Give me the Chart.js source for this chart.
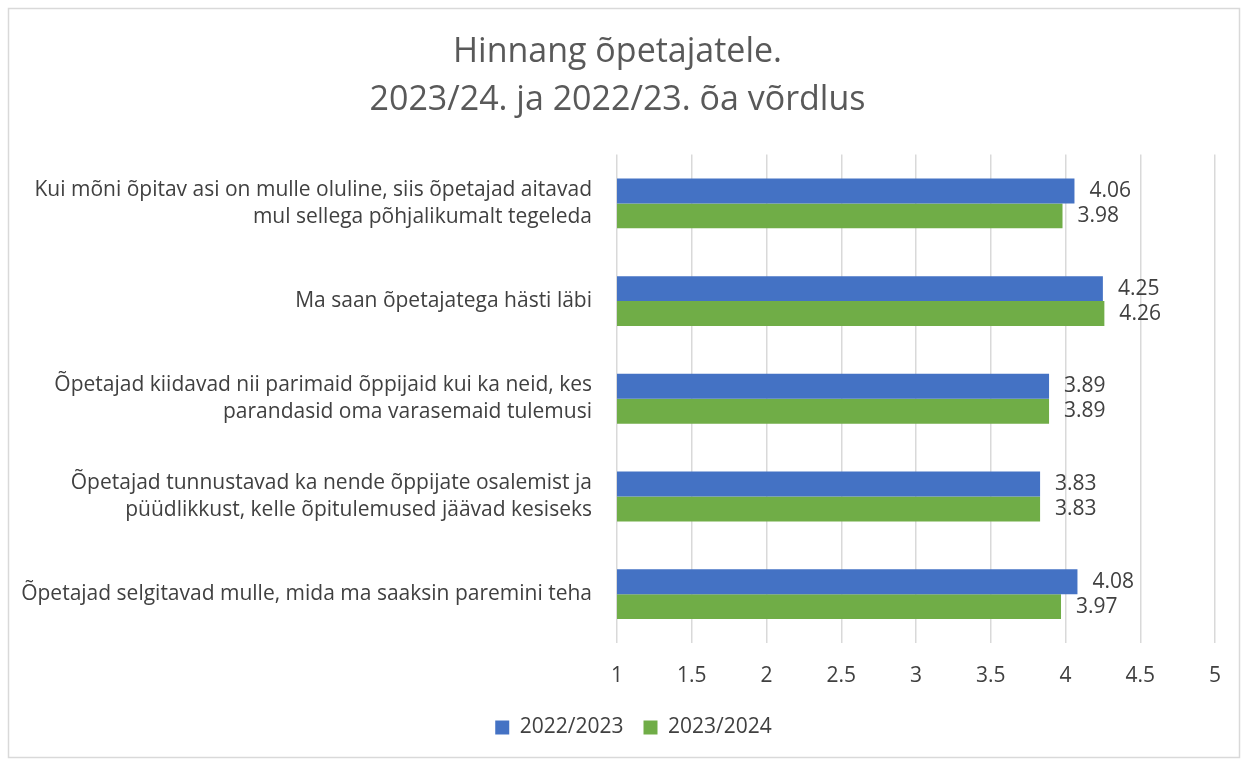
<!DOCTYPE html>
<html><head><meta charset="utf-8">
<script src="https://cdn.jsdelivr.net/npm/chart.js@4/dist/chart.umd.min.js"></script>
<style>html,body{margin:0;padding:0;background:#fff;}#wrap{width:1244px;height:761px;position:relative;}</style>
</head><body><div id="wrap"><canvas id="c" width="1244" height="761"></canvas></div>
<script>
const categories = [
  ["Kui mõni õpitav asi on mulle oluline, siis õpetajad aitavad", "mul sellega põhjalikumalt tegeleda"],
  "Ma saan õpetajatega hästi läbi",
  ["Õpetajad kiidavad nii parimaid õppijaid kui ka neid, kes", "parandasid oma varasemaid tulemusi"],
  ["Õpetajad tunnustavad ka nende õppijate osalemist ja", "püüdlikkust, kelle õpitulemused jäävad kesiseks"],
  "Õpetajad selgitavad mulle, mida ma saaksin paremini teha"
];
const seriesNames = ["2022/2023", "2023/2024"];
const values2022 = [4.06, 4.25, 3.89, 3.83, 4.08];
const values2023 = [3.98, 4.26, 3.89, 3.83, 3.97];
const xTicks = [1, 1.5, 2, 2.5, 3, 3.5, 4, 4.5, 5];
const titleLines = ["Hinnang õpetajatele.", "2023/24. ja 2022/23. õa võrdlus"];

const FONT = "'Open Sans', 'Noto Sans', sans-serif";
const TXT = '#404040';
const FS = 21;

const frame = {
  id: 'frame',
  beforeDraw(chart) {
    const ctx = chart.ctx;
    ctx.save();
    ctx.fillStyle = '#fff';
    ctx.fillRect(0, 0, chart.width, chart.height);
    ctx.strokeStyle = '#d9d9d9';
    ctx.lineWidth = 1.5;
    ctx.strokeRect(8.5, 8.5, 1231, 749);
    ctx.restore();
  }
};
const legendShift = {
  id: 'legendShift',
  afterLayout(chart) {
    if (chart.legend) { chart.legend.left += 16; chart.legend.right += 16; }
  }
};
const labels = {
  id: 'vlabels',
  afterDatasetsDraw(chart) {
    const ctx = chart.ctx;
    ctx.save();
    ctx.font = FS + 'px ' + FONT;
    ctx.fillStyle = TXT;
    ctx.textAlign = 'left';
    ctx.textBaseline = 'middle';
    chart.data.datasets.forEach((ds, i) => {
      chart.getDatasetMeta(i).data.forEach((bar, j) => {
        ctx.fillText(ds.data[j].toFixed(2), bar.x + 15, bar.y);
      });
    });
    ctx.restore();
  }
};

new Chart(document.getElementById('c'), {
  type: 'bar',
  data: {
    labels: categories,
    datasets: [
      { label: seriesNames[0], data: values2022, backgroundColor: '#4472C4' },
      { label: seriesNames[1], data: values2023, backgroundColor: '#70AD47' }
    ]
  },
  options: {
    indexAxis: 'y',
    responsive: false,
    animation: false,
    devicePixelRatio: 1,
    categoryPercentage: 0.51,
    barPercentage: 1,
    layout: { padding: { left: 20, right: 29, top: 28, bottom: 13 } },
    plugins: {
      tooltip: { enabled: false },
      title: {
        display: true,
        text: titleLines,
        color: '#595959',
        font: { family: FONT, size: 34, weight: 'normal', lineHeight: 1.42 },
        padding: { top: 0, bottom: 30 }
      },
      legend: {
        position: 'bottom',
        labels: {
          color: TXT,
          font: { family: FONT, size: FS },
          boxWidth: 14, boxHeight: 14, padding: 20
        }
      }
    },
    scales: {
      x: {
        min: 1, max: 5,
        afterBuildTicks(s) { s.ticks = xTicks.map(v => ({ value: v })); },
        grid: { color: '#d9d9d9', lineWidth: 1.5, drawTicks: false },
        border: { display: false },
        ticks: { color: TXT, font: { family: FONT, size: FS }, padding: 20, maxRotation: 0,
                 callback: (v) => String(v) },
        afterFit(s) { s.height = 54; }
      },
      y: {
        grid: { display: false },
        border: { display: false },
        ticks: { color: TXT, font: { family: FONT, size: FS, lineHeight: 1.3 }, padding: 17 },
        afterFit(s) { s.width = 597; }
      }
    }
  },
  plugins: [frame, legendShift, labels]
});
</script></body></html>
